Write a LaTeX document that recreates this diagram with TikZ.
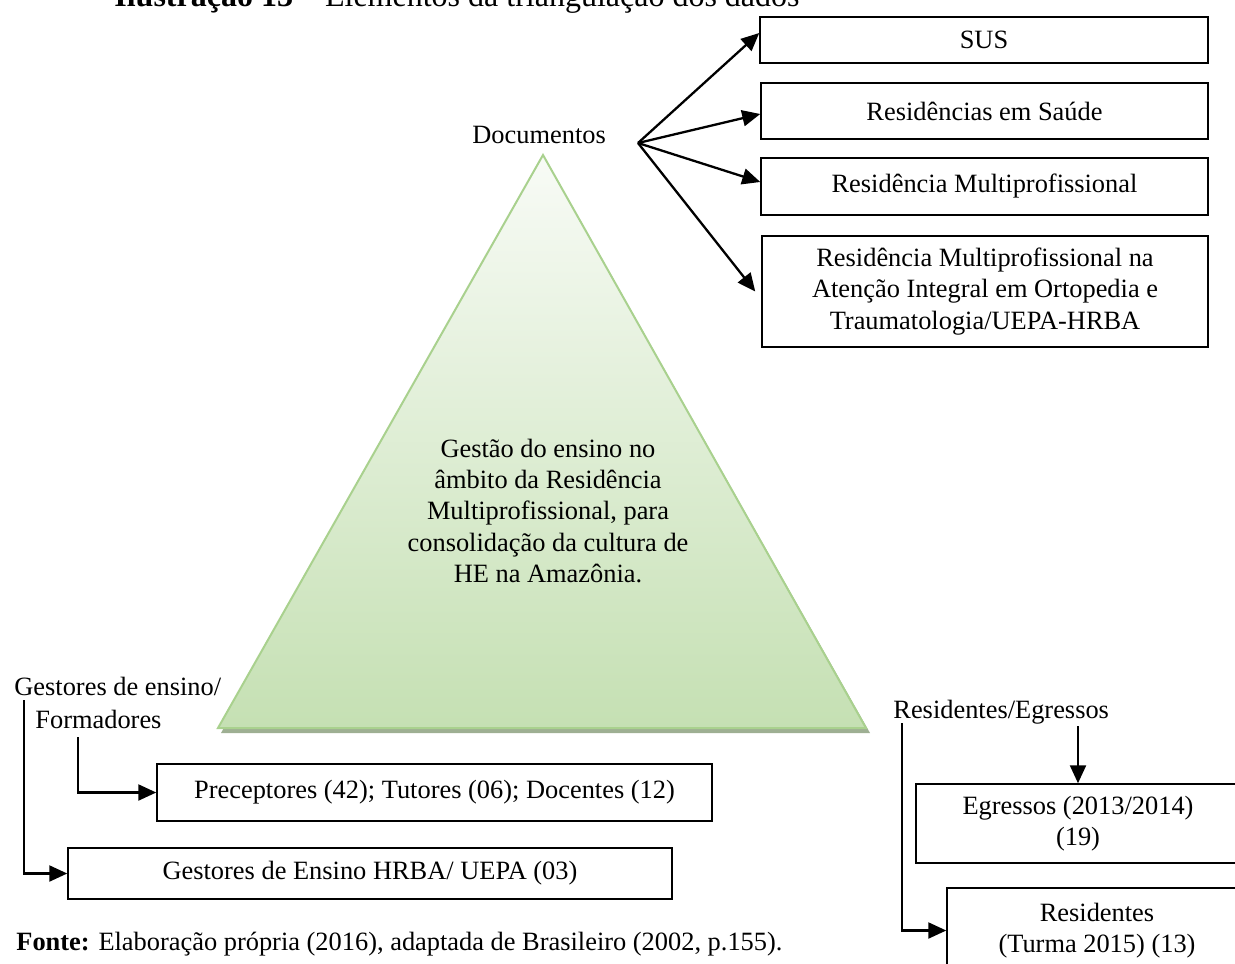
\documentclass[tikz,border=0pt]{standalone}
\usepackage{fontspec}
\setmainfont{Liberation Serif}
\usetikzlibrary{arrows.meta}
\definecolor{trifill}{HTML}{C5E0B3}
\definecolor{tritop}{HTML}{F8FBF6}
\definecolor{tristroke}{HTML}{A9D18E}
\definecolor{trishadow}{HTML}{9EAF93}
\begin{document}
\begin{tikzpicture}[x=0.5pt,y=-0.5pt,
  every node/.style={font=\fontsize{13.2pt}{15.6pt}\selectfont, inner sep=0pt},
  box/.style={draw=black, line width=0.75pt, align=center},
  conn/.style={draw=black, line width=1.15pt, -{Triangle[length=9pt,width=8pt]}},
  lbl/.style={anchor=base west}]
\useasboundingbox (0,0) rectangle (1235,963);
% title (cut by the page top)
\node[lbl, font=\fontsize{16pt}{18pt}\selectfont] (title) at (114,7) {\textbf{Ilustração 13} – Elementos da triangulação dos dados};
% triangle
\fill[trishadow] (546,160) -- (221,733) -- (870,733) -- cycle;
\shade[top color=tritop, bottom color=trifill, draw=tristroke, line width=1pt]
  (543,155) -- (218,728) -- (866,728) -- cycle;
\node[align=center] (tritext) at (548,511) {Gestão do ensino no\\âmbito da Residência\\Multiprofissional, para\\consolidação da cultura de\\HE na Amazônia.};
% documentos
\node[lbl] (docs) at (472,143) {Documentos};
\coordinate (fan) at (638,143);
\node[box, minimum width=224pt, minimum height=23pt] (sus) at (984,40) {SUS};
\node[box, minimum width=223.5pt, minimum height=28pt] (res) at (984.5,111) {Residências em Saúde};
\node[box, minimum width=223.5pt, minimum height=28.5pt] (mul) at (984.5,186.5) {Residência Multiprofissional};
\node[box, minimum width=223pt, minimum height=55.5pt] (uepa) at (985,291.5) {Residência Multiprofissional na\\Atenção Integral em Ortopedia e\\Traumatologia/UEPA-HRBA};
\draw[conn] (fan) -- ([yshift=3.5pt]sus.west);
\draw[conn] (fan) -- ([yshift=-1.5pt]res.west);
\draw[conn] (fan) -- ([yshift=2.25pt]mul.west);
\draw[conn] (fan) -- ([xshift=-3pt]uepa.west);
% left group
\node[lbl] (gest) at (14,695) {Gestores de ensino/};
\node[lbl] (form) at (35,728) {Formadores};
\node[box, minimum width=277.5pt, minimum height=28.5pt] (prec) at (434.5,792.5) {Preceptores (42); Tutores (06); Docentes (12)};
\node[box, minimum width=302pt, minimum height=25.5pt] (hrba) at (370,873.5) {Gestores de Ensino HRBA/ UEPA (03)};
\coordinate (gl) at (24,700);
\coordinate (fl) at (78,737);
\draw[conn] (gl) |- (hrba.west);
\draw[conn] (fl) |- (prec.west);
% right group
\node[lbl] (regr) at (893,718) {Residentes/Egressos};
\node[box, minimum width=162pt, minimum height=39.5pt] (egr) at (1078,823.5) {Egressos (2013/2014)\\(19)};
\node[box, minimum width=150pt, minimum height=42.5pt] (resid) at (1097,930.5) {Residentes\\(Turma 2015) (13)};
\coordinate (rl) at (902,723);
\coordinate (rd) at (1078,726);
\draw[conn] (rl) |- (resid.west);
\draw[conn] (rd) -- (egr.north);
% source
\node[lbl] (fonte) at (16,950) {\textbf{Fonte:} Elaboração própria (2016), adaptada de Brasileiro (2002, p.155).};
\end{tikzpicture}
\end{document}
